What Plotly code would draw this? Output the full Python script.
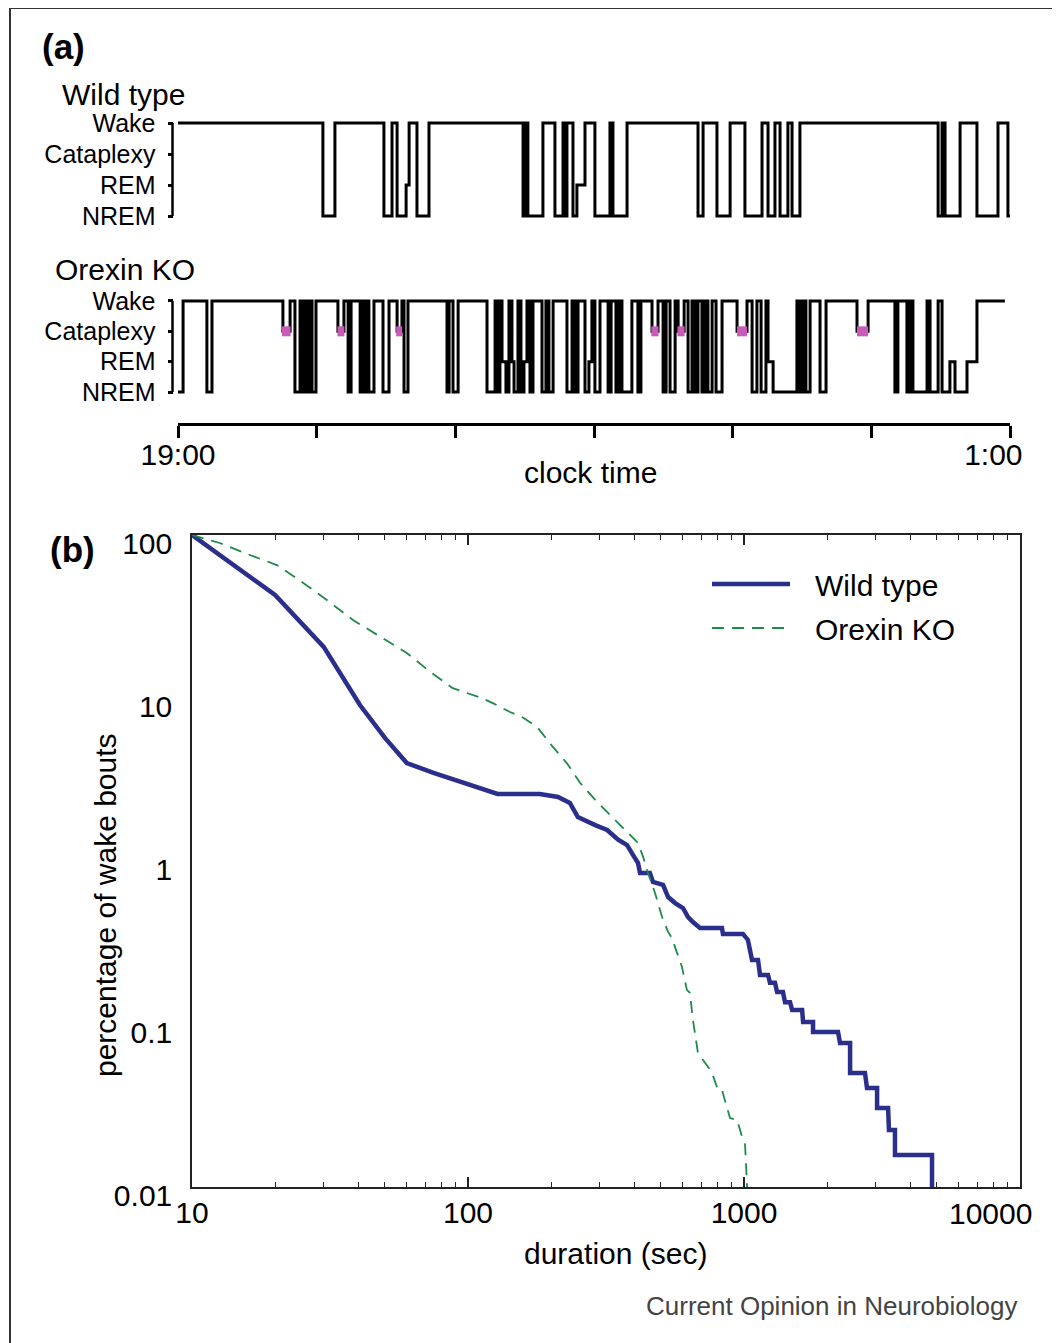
import plotly.graph_objects as go

# page body has an 8px margin: the figure fills the rest of the 1060x1343 window
OFF = 8
W, H = 1060 - OFF, 1343 - OFF


def px(x):
    return (x - OFF) / W


def py(y):
    return 1 - (y - OFF) / H


FONT = "Liberation Sans, Arial, Helvetica, sans-serif"

# ---------------- Panel (a): hypnograms ----------------
# states: 0 = NREM, 1 = REM, 2 = Cataplexy, 3 = Wake
STATE_LABELS = ["NREM", "REM", "Cataplexy", "Wake"]
CLOCK_TICKS_MIN = [0, 60, 120, 180, 240, 300, 360]
CLOCK_TICK_TEXT = ["19:00", "", "", "", "", "", "1:00\u00a0\u00a0\u00a0\u00a0"]

# minutes after 19:00 at which the state changes
WT_T = [0, 62.7, 67.9, 89.1, 92.6, 94.8, 98.7, 100.0, 103.4, 108.6,
        149.3, 150.6, 151.4, 157.9, 163.1, 166.6, 167.5, 168.3, 170.9, 172.6,
        176.1, 180.4, 186.9, 188.2, 194.3, 225.0, 227.2, 233.2, 238.9, 245.3,
        252.7, 255.3, 258.3, 260.5, 263.9, 265.7, 269.1, 328.9, 330.6, 331.9,
        338.4, 345.7, 354.8, 359.1, 360.9]
WT_S = [3, 0, 3, 0, 3, 0, 1, 3, 0, 3,
        0, 3, 0, 3, 0, 3, 0, 3, 0, 1,
        3, 0, 3, 0, 3, 0, 3, 0, 3, 0,
        3, 0, 3, 0, 3, 0, 3, 0, 3, 0,
        3, 0, 3, 0, 0]

KO_T = [0, 2.2, 12.5, 14.7, 45.4, 48.5, 50.6, 52.8, 53.7, 55.0,
        55.8, 57.1, 58.0, 59.7, 69.2, 71.8, 73.6, 74.9, 78.8, 80.0,
        80.9, 81.8, 82.6, 84.8, 88.7, 91.3, 94.8, 96.9, 97.8, 99.5,
        116.4, 117.3, 119.0, 121.2, 133.7, 137.2, 138.0, 139.3, 140.2, 141.9,
        143.2, 144.5, 145.4, 147.1, 148.4, 149.7, 151.0, 152.3, 153.6, 157.5,
        159.2, 160.5, 162.3, 168.3, 170.5, 171.8, 173.1, 176.1, 177.8, 179.1,
        180.4, 182.6, 186.1, 187.4, 189.5, 190.8, 192.1, 196.4, 199.0, 200.3,
        205.1, 207.7, 209.9, 211.2, 212.9, 215.1, 216.4, 219.0, 220.7, 222.4,
        223.7, 225.0, 226.7, 228.0, 229.3, 231.1, 232.8, 235.4, 241.9, 246.2,
        248.4, 250.5, 252.3, 254.4, 255.3, 257.5, 267.8, 269.1, 270.4, 271.7,
        273.5, 277.8, 280.4, 293.8, 298.6, 310.2, 311.5, 315.4, 316.7, 318.0,
        324.1, 325.4, 328.9, 330.6, 334.0, 336.2, 341.4, 345.7, 357.8]
KO_S = [0, 3, 0, 3, 2, 3, 0, 3, 0, 3,
        0, 3, 0, 3, 2, 3, 0, 3, 0, 3,
        0, 3, 0, 3, 0, 3, 2, 3, 0, 3,
        0, 3, 0, 3, 0, 3, 0, 3, 1, 0,
        3, 1, 0, 3, 0, 1, 3, 0, 3, 0,
        3, 0, 3, 0, 3, 0, 3, 0, 1, 3,
        0, 3, 0, 3, 0, 3, 0, 3, 0, 3,
        2, 3, 0, 3, 0, 3, 2, 3, 0, 3,
        0, 3, 0, 3, 0, 3, 0, 3, 2, 3,
        0, 3, 0, 3, 1, 0, 3, 0, 3, 0,
        3, 0, 3, 2, 3, 0, 3, 0, 3, 0,
        3, 0, 3, 0, 1, 0, 1, 3, 3]

# cataplexy episodes (start, end) in minutes, highlighted in pink
KO_CATAPLEXY = [(45.0, 48.7), (69.0, 72.0), (94.4, 97.0), (204.8, 207.9),
                (216.1, 219.2), (241.9, 246.2), (293.8, 298.6)]

# ---------------- Panel (b): survival of wake bouts ----------------
WT_DUR = [10, 20, 30, 40.6, 50, 60, 75, 99, 113, 128,
          182, 212, 234, 250, 289, 319, 350, 377, 396, 413,
          420, 456, 468, 509, 531, 563, 601, 627, 653, 693,
          832, 839, 991, 1033, 1069, 1124, 1143, 1222, 1242, 1295,
          1318, 1384, 1408, 1468, 1494, 1624, 1637, 1779, 1779, 2191,
          2229, 2423, 2423, 2744, 2790, 3035, 3035, 3327, 3351, 3524,
          3524, 4800, 4800]
WT_PCT = [100, 42.9, 20.6, 9.06, 5.69, 3.99, 3.47, 2.97, 2.80, 2.58,
          2.58, 2.47, 2.27, 1.86, 1.66, 1.55, 1.35, 1.25, 1.09, 0.973,
          0.844, 0.844, 0.743, 0.713, 0.601, 0.552, 0.515, 0.453, 0.422, 0.388,
          0.388, 0.357, 0.357, 0.328, 0.247, 0.247, 0.200, 0.200, 0.179, 0.179,
          0.157, 0.157, 0.136, 0.136, 0.122, 0.122, 0.103, 0.103, 0.0893, 0.0893,
          0.0764, 0.0764, 0.050, 0.050, 0.0405, 0.0405, 0.0305, 0.0305, 0.0224, 0.0224,
          0.0157, 0.0157, 0.01]

KO_DUR = [10, 12.6, 16.2, 20.3, 25.3, 30.8, 38.3, 48, 60, 72.8,
          88, 112, 123, 142, 158, 178, 203, 228, 255, 289,
          335, 377, 413, 431, 449, 476, 505, 531, 548, 572,
          596, 621, 637, 653, 681, 741, 766, 805, 832, 890,
          944, 984, 1009, 1026]
KO_PCT = [100, 89.3, 75.4, 65.4, 50.8, 39.9, 30.1, 23.7, 18.9, 14.5,
          11.5, 10.0, 9.3, 8.2, 7.6, 6.64, 5.01, 3.99, 3.01, 2.37,
          1.84, 1.49, 1.29, 1.06, 0.844, 0.637, 0.453, 0.367, 0.337, 0.273,
          0.224, 0.162, 0.155, 0.106, 0.0664, 0.0545, 0.050, 0.0394, 0.0394, 0.0265,
          0.0258, 0.0203, 0.0181, 0.01]

X_TICKS = [10, 100, 1000, 10000]
X_TICK_TEXT = ["10", "100", "1000", ""]   # last label is placed as an annotation (kept inside the frame)
X_LAST_LABEL = "10000"
Y_TICKS = [100, 10, 1, 0.1, 0.01]
Y_TICK_TEXT = ["100", "10", "1", "0.1", "0.01"]
SERIES_NAMES = ["Wild type", "Orexin KO"]

BLUE = "#2b2f8c"
GREEN = "#1f8a4a"
PINK = "#c95ab8"

fig = go.Figure()

# hypnograms
fig.add_trace(go.Scatter(x=WT_T, y=WT_S, mode="lines", line=dict(color="black", width=3, shape="hv"),
                         xaxis="x", yaxis="y", hoverinfo="skip"))
fig.add_trace(go.Scatter(x=KO_T, y=KO_S, mode="lines", line=dict(color="black", width=3, shape="hv"),
                         xaxis="x2", yaxis="y2", hoverinfo="skip"))
cx, cy = [], []
for a, b in KO_CATAPLEXY:
    cx += [a, b, None]
    cy += [2, 2, None]
fig.add_trace(go.Scatter(x=cx, y=cy, mode="lines", line=dict(color=PINK, width=10),
                         xaxis="x2", yaxis="y2", hoverinfo="skip"))

# survival curves
fig.add_trace(go.Scatter(x=WT_DUR, y=WT_PCT, mode="lines", name=SERIES_NAMES[0],
                         line=dict(color=BLUE, width=4.5), xaxis="x3", yaxis="y3"))
fig.add_trace(go.Scatter(x=KO_DUR, y=KO_PCT, mode="lines", name=SERIES_NAMES[1],
                         line=dict(color=GREEN, width=1.8, dash="12px,8px"), xaxis="x3", yaxis="y3"))

hyp_xdom = [px(178), px(1010)]
ytick_common = dict(tickmode="array", tickvals=[0, 1, 2, 3], ticktext=STATE_LABELS,
                    ticks="outside", ticklen=5, tickwidth=2.5, tickcolor="black",
                    showline=False, showgrid=False, zeroline=False, range=[-0.2, 3.2],
                    anchor="free", position=px(172.5), ticklabelstandoff=7, automargin=False,
                    tickfont=dict(size=25, family=FONT, color="black"))

minor_x = [v * m for m in (10, 100, 1000) for v in range(2, 10)]
minor_y4 = [v * m for m in (1, 10) for v in range(2, 10)]

fig.update_layout(
    width=W, height=H,
    margin=dict(l=0, r=0, t=0, b=0, autoexpand=False),
    paper_bgcolor="white", plot_bgcolor="white",
    showlegend=False,
    font=dict(family=FONT, color="black"),
    xaxis=dict(domain=hyp_xdom, range=[0, 360], visible=False, anchor="y", automargin=False),
    yaxis=dict(domain=[py(222.2), py(116.8)], **ytick_common),
    xaxis2=dict(domain=hyp_xdom, range=[0, 360], anchor="free", position=py(424),
                showline=True, linewidth=2.5, linecolor="black", automargin=False,
                tickmode="array", tickvals=CLOCK_TICKS_MIN, ticktext=CLOCK_TICK_TEXT,
                ticks="outside", ticklen=12, tickwidth=2.5, tickcolor="black",
                showgrid=False, zeroline=False, ticklabelstandoff=-9, ticklabeloverflow="allow",
                tickfont=dict(size=30, family=FONT, color="black")),
    yaxis2=dict(domain=[py(398.1), py(294.9)], **ytick_common),
    xaxis3=dict(domain=[px(192), px(1020)], type="log", range=[1, 4], anchor="y3",
                showline=True, linewidth=1.5, linecolor="#222", mirror="ticks", automargin=False,
                tickmode="array", tickvals=X_TICKS, ticktext=X_TICK_TEXT,
                ticks="inside", ticklen=10, tickwidth=1.5, tickcolor="#222",
                minor=dict(tickvals=minor_x, ticks="inside", ticklen=5, tickwidth=1.2, tickcolor="#222"),
                showgrid=False, zeroline=False, ticklabelstandoff=-2, ticklabeloverflow="allow",
                tickfont=dict(size=30, family=FONT, color="black")),
    yaxis3=dict(domain=[py(1187), py(535)], type="log", range=[-2, 2], anchor="x3",
                showline=True, linewidth=1.5, linecolor="#222", mirror=True, automargin=False,
                tickmode="array", tickvals=Y_TICKS, ticktext=Y_TICK_TEXT, ticks="",
                showgrid=False, zeroline=False, ticklabelstandoff=12, ticklabelshift=8,
                ticklabeloverflow="allow",
                tickfont=dict(size=30, family=FONT, color="black")),
    yaxis4=dict(overlaying="y3", anchor="x3", type="log", range=[0, 2], side="left",
                showticklabels=False, showline=False, mirror="ticks", automargin=False,
                tickmode="array", tickvals=[1, 10, 100],
                ticks="inside", ticklen=10, tickwidth=1.5, tickcolor="#222",
                minor=dict(tickvals=minor_y4, ticks="inside", ticklen=5, tickwidth=1.2, tickcolor="#222"),
                showgrid=False, zeroline=False),
)

shapes = [
    # hypnogram y-axis spines (Wake .. NREM)
    dict(type="line", xref="paper", yref="y", x0=px(172.5), x1=px(172.5), y0=0, y1=3,
         line=dict(color="black", width=2.5)),
    dict(type="line", xref="paper", yref="y2", x0=px(172.5), x1=px(172.5), y0=0, y1=3,
         line=dict(color="black", width=2.5)),
    # legend keys
    dict(type="line", xref="paper", yref="paper", x0=px(712), x1=px(790), y0=py(584), y1=py(584),
         line=dict(color=BLUE, width=4.5)),
    dict(type="line", xref="paper", yref="paper", x0=px(712), x1=px(790), y0=py(628), y1=py(628),
         line=dict(color=GREEN, width=1.8, dash="12px,8px")),
    # outer frame
    dict(type="rect", xref="paper", yref="paper", x0=px(10), x1=1.02, y0=-0.02, y1=py(8),
         line=dict(color="#333", width=2), fillcolor="rgba(0,0,0,0)", layer="below"),
]
fig.update_layout(shapes=shapes)


def ann(text, x, y, size=30, xanchor="left", yanchor="middle", bold=False, color="black", angle=0):
    return dict(text=f"<b>{text}</b>" if bold else text, x=x, y=y, xref="paper", yref="paper",
                xanchor=xanchor, yanchor=yanchor, showarrow=False, textangle=angle,
                font=dict(size=size, family=FONT, color=color))


fig.update_layout(annotations=[
    ann("(a)", px(40), py(46), size=35, bold=True),
    ann("Wild type", px(60), py(94)),
    ann("Orexin KO", px(53), py(269)),
    ann("clock time", px(590), py(473), xanchor="center"),
    ann("(b)", px(48), py(549), size=35, bold=True),
    ann("percentage of wake bouts", px(105), py(905), xanchor="center", angle=-90),
    ann("duration (sec)", px(615), py(1253), xanchor="center"),
    ann(X_LAST_LABEL, px(990), py(1213), xanchor="center"),
    ann(SERIES_NAMES[0], px(813), py(585)),
    ann(SERIES_NAMES[1], px(813), py(629)),
    ann("Current Opinion in Neurobiology", px(1019), py(1306), size=26, xanchor="right", color="#444"),
])

fig.write_html("out.html")
